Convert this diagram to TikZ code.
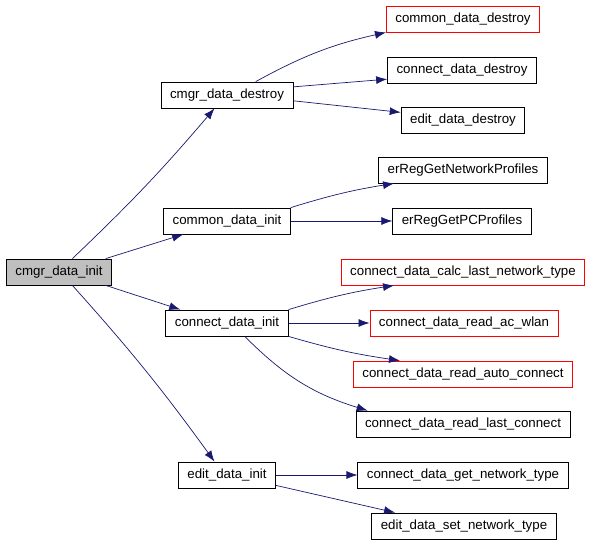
\documentclass[tikz,border=0pt]{standalone}
\usepackage{fontspec}
\setmainfont{Liberation Sans}
\usetikzlibrary{arrows.meta}
\definecolor{callblue}{RGB}{25,25,112}
\definecolor{rootgray}{RGB}{191,191,191}
\begin{document}
\begin{tikzpicture}
      [
      x=1pt,y=1pt,
      func/.style={rectangle,draw,line width=0.8pt,inner xsep=9pt,inner ysep=0pt,minimum height=26pt,font=\fontsize{13.3}{15}\selectfont},
      root/.style={func,fill=rootgray},
      undoc/.style={func,draw=red},
      call/.style={callblue,line width=0.7pt,-{Latex[length=11pt,width=8pt]}}
      ]
      \useasboundingbox (0,0) rectangle (589,544);
      \node (init) at (59,272) [root] {cmgr\_data\_init};
      \node (destroy) at (227,449) [func] {cmgr\_data\_destroy};
      \node (comdestroy) at (463,525) [undoc] {common\_data\_destroy};
      \node (condestroy) at (462,474) [func] {connect\_data\_destroy};
      \node (editdestroy) at (463,424) [func] {edit\_data\_destroy};
      \node (cominit) at (227,323) [func] {common\_data\_init};
      \node (netprof) at (463,374) [func] {erRegGetNetworkProfiles};
      \node (pcprof) at (462,323) [func] {erRegGetPCProfiles};
      \node (coninit) at (227,221) [func] {connect\_data\_init};
      \node (calc) at (463,272) [undoc] {connect\_data\_calc\_last\_network\_type};
      \node (acwlan) at (464,221) [undoc] {connect\_data\_read\_ac\_wlan};
      \node (auto) at (463,170) [undoc] {connect\_data\_read\_auto\_connect};
      \node (last) at (463,120) [func] {connect\_data\_read\_last\_connect};
      \node (editinit) at (227,69) [func] {edit\_data\_init};
      \node (getnt) at (463,69) [func] {connect\_data\_get\_network\_type};
      \node (setnt) at (464,18) [func] {edit\_data\_set\_network\_type};
      \draw [call, bend right=3] (init.45) to (destroy.227);
      \draw [call] (init.16) to (cominit.197);
      \draw [call] (init.-16) to (coninit.164);
      \draw [call, bend left=3] (init.-45) to (editinit.133);
      \draw [call, bend left=8] (destroy.25) to (comdestroy.south west);
      \draw [call] (destroy.7) to (condestroy.187);
      \draw [call] (destroy.-5) to (editdestroy.173);
      \draw [call, bend left=4] (cominit.north east) to (netprof.191);
      \draw [call] (cominit) to (pcprof);
      \draw [call, bend left=4] (coninit.north east) to (calc.191);
      \draw [call] (coninit) to (acwlan);
      \draw [call, bend right=4] (coninit.south east) to (auto.168);
      \draw [call, bend right=14] (coninit.-37) to (last.172);
      \draw [call] (editinit) to (getnt);
      \draw [call] (editinit.-12) to (setnt.169);
    \end{tikzpicture}
\end{document}
